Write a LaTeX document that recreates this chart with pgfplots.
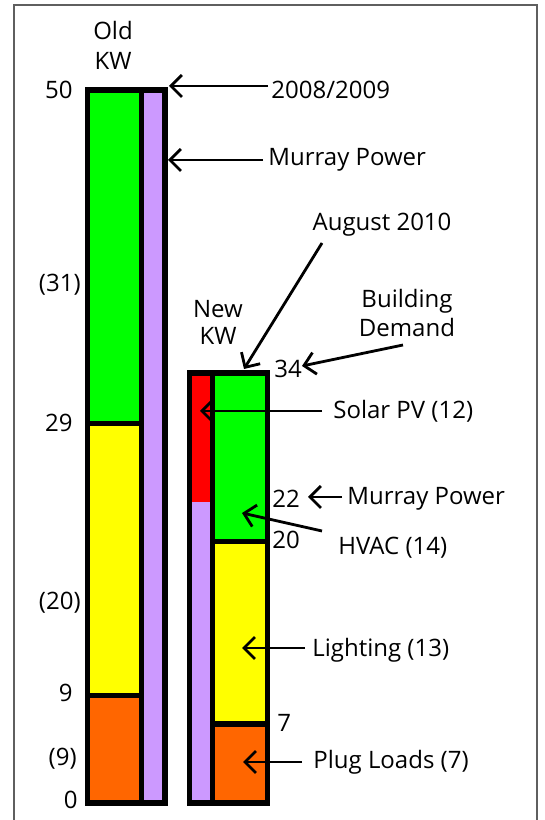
\documentclass[border=0pt]{standalone}
\usepackage{pgfplots}
\pgfplotsset{compat=1.18}
\usepackage{fontspec}
\setmainfont{Open Sans}
\usetikzlibrary{arrows.meta}
\definecolor{cgreen}{RGB}{0,255,0}
\definecolor{cyellow}{RGB}{255,255,0}
\definecolor{corange}{RGB}{255,102,0}
\definecolor{cpurple}{RGB}{204,153,255}
\definecolor{cred}{RGB}{255,0,0}
\definecolor{frame}{RGB}{95,95,95}
\begin{document}
\begin{tikzpicture}
\begin{axis}[
  at={(0,0)}, anchor=south west,
  scale only axis, width=272.5pt, height=410pt,
  xmin=0, xmax=545, ymin=-1.5063, ymax=55.088,
  hide axis, clip=false,
  xtick=\empty, ytick=\empty,
  y coord trafo/.code={\pgfmathparse{(#1<=7)?(#1*11.2857):((#1<=9)?(79+(#1-7)*14.25):((#1<=20)?(107.5+(#1-9)*13.9727):((#1<=22)?(261.2+(#1-20)*20.05):((#1<=29)?(301.3+(#1-22)*11.2):((#1<=34)?(379.7+(#1-29)*10.06):(430+(#1-34)*17.6875))))))}},
  bars/.style={ybar, bar shift=0pt, draw=black, line width=2.6pt},
  fillonly/.style={ybar, bar shift=0pt, draw=none},
]
% Old KW (2008/2009): building demand 50 = HVAC 21 + lighting 20 + plug loads 9
\addplot[bars, fill=cgreen,  bar width=53.8] coordinates {(114.6,50)};
\addplot[bars, fill=cyellow, bar width=53.8] coordinates {(114.6,29)};
\addplot[bars, fill=corange, bar width=53.8] coordinates {(114.6,9)};
% Old Murray Power 50
\addplot[bars, fill=cpurple, bar width=23.5] coordinates {(153.25,50)};
% New (August 2010): Murray Power 22 + Solar PV 12 = 34
\addplot[fillonly, fill=cred,    bar width=23.3] coordinates {(201,34)};
\addplot[fillonly, fill=cpurple, bar width=23.3] coordinates {(201,22)};
\addplot[bars, fill=none,        bar width=23.3] coordinates {(201,34)};
% New building demand 34 = HVAC 14 + lighting 13 + plug loads 7
\addplot[bars, fill=cgreen,  bar width=54.5] coordinates {(240,34)};
\addplot[bars, fill=cyellow, bar width=54.5] coordinates {(240,20)};
\addplot[bars, fill=corange, bar width=54.5] coordinates {(240,7)};
\end{axis}
\begin{scope}[x=0.5pt,y=-0.5pt,yshift=410pt,
  every node/.style={font=\fontsize{12pt}{14pt}\selectfont, inner sep=0pt},
  arr/.style={line width=1.4pt, -{Straight Barb[length=5.5pt,width=11pt]}}]
  \draw[frame, line width=1pt] (14,830) -- (14,5) -- (537,5) -- (537,830);
  % left labels
  \node[align=center, font=\fontsize{12pt}{15pt}\selectfont] at (113,45) {Old\\KW};
  \node[anchor=east] at (73,90) {50};
  \node[anchor=east] at (81,285) {(31)};
  \node[anchor=east] at (73,423) {29};
  \node[anchor=east] at (81,603) {(20)};
  \node[anchor=east] at (73,693) {9};
  \node[anchor=east] at (77,759) {(9)};
  \node[anchor=east] at (78,800) {0};
  % top annotations
  \draw[arr] (268,86) -- (169,86);
  \node[anchor=west] at (271,90) {2008/2009};
  \draw[arr] (263,160) -- (168,160);
  \node[anchor=west] at (268,160) {Murray Power};
  \node at (382,225) {August 2010};
  \draw[arr] (322,243) -- (244,369);
  \node[align=center, font=\fontsize{12pt}{13.5pt}\selectfont] at (218,322) {New\\KW};
  \node[align=center, font=\fontsize{12pt}{14.5pt}\selectfont] at (407,313) {Building\\Demand};
  \draw[arr] (403,345) -- (302,366);
  \node[anchor=west] at (274,369) {34};
  % right annotations
  \draw[arr] (322,411) -- (200,411);
  \node[anchor=west] at (333,411) {Solar PV (12)};
  \node[anchor=west] at (272,499) {22};
  \draw[arr] (342,497) -- (308,497);
  \node[anchor=west] at (347,499) {Murray Power};
  \node[anchor=west] at (272,540) {20};
  \draw[arr] (322,531) -- (242,513);
  \node[anchor=west] at (338,548) {HVAC (14)};
  \draw[arr] (305,648) -- (242,648);
  \node[anchor=west] at (312,650) {Lighting (13)};
  \node[anchor=west] at (277,723) {7};
  \draw[arr] (302,762) -- (243,762);
  \node[anchor=west] at (313,762) {Plug Loads (7)};
\end{scope}
\pgfresetboundingbox
\path (0,0) rectangle (272.5pt,410pt);
\end{tikzpicture}
\end{document}
